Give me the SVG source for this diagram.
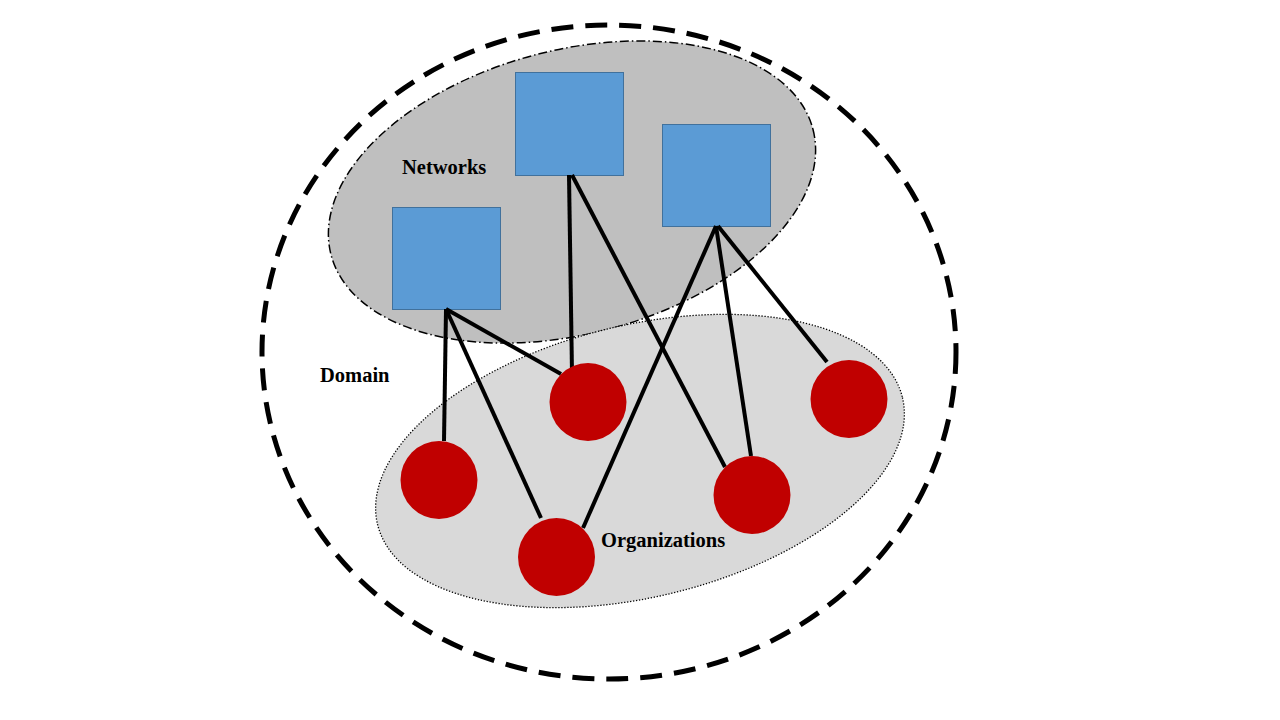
<svg xmlns="http://www.w3.org/2000/svg" width="1280" height="720" viewBox="0 0 1280 720">
<style>
.lbl{font-family:"Liberation Serif","Times New Roman",serif;font-weight:bold;font-size:20.5px;fill:#000}
.net{fill:#5b9bd5;stroke:#41719c;stroke-width:1}
.org{fill:#c00000}
.conn line{stroke:#000;stroke-width:4;stroke-linecap:butt}
</style>
<rect width="1280" height="720" fill="#fff"/>
<g id="domain">
<ellipse cx="609" cy="352" rx="347" ry="327" fill="none" stroke="#000" stroke-width="5" stroke-dasharray="22 12"/>
<text class="lbl" x="320" y="382">Domain</text>
</g>
<g id="networks-area">
<ellipse cx="572" cy="192" rx="249" ry="142" transform="rotate(-14.6 572 192)" fill="#bfbfbf" stroke="#000" stroke-width="1.5" stroke-dasharray="9 3 1.5 3"/>
<text class="lbl" x="402" y="174">Networks</text>
</g>
<g id="organizations-area">
<ellipse cx="640" cy="461" rx="270" ry="136" transform="rotate(-13.6 640 461)" fill="#d9d9d9" stroke="#000" stroke-width="1.3" stroke-dasharray="1.3 1.7"/>
</g>
<g id="net1"><rect class="net" x="392.5" y="207.5" width="108" height="102"/></g>
<g id="net2"><rect class="net" x="515.5" y="72.5" width="108" height="103"/></g>
<g id="net3"><rect class="net" x="662.5" y="124.5" width="108" height="102"/></g>
<g id="connectors" class="conn">
<line x1="446" y1="309" x2="444" y2="441"/>
<line x1="446" y1="309" x2="541" y2="518"/>
<line x1="446" y1="309" x2="561" y2="374"/>
<line x1="569" y1="175" x2="572" y2="373"/>
<line x1="572" y1="175" x2="725" y2="467"/>
<line x1="716" y1="226" x2="583" y2="528"/>
<line x1="716" y1="226" x2="751" y2="456"/>
<line x1="718" y1="226" x2="827" y2="362"/>
</g>
<g id="org1"><ellipse class="org" cx="439" cy="480" rx="38.5" ry="39"/></g>
<g id="org2"><ellipse class="org" cx="588" cy="402" rx="38.5" ry="39"/></g>
<g id="org3"><ellipse class="org" cx="556.5" cy="557" rx="38.5" ry="39"/></g>
<g id="org4"><ellipse class="org" cx="752" cy="495" rx="38.5" ry="39"/></g>
<g id="org5"><ellipse class="org" cx="849" cy="399" rx="38.5" ry="39"/></g>
<g id="organizations-label"><text class="lbl" x="601" y="547">Organizations</text></g>
</svg>
